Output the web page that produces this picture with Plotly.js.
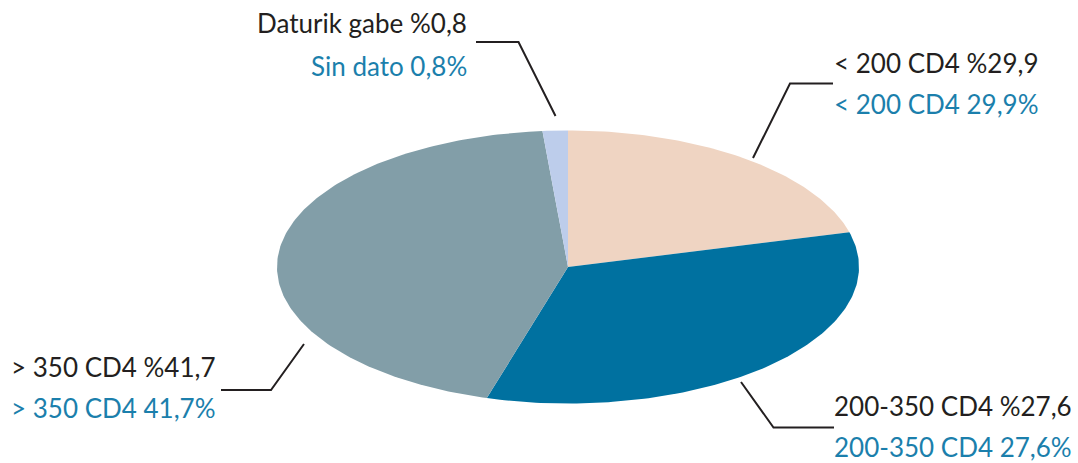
<!DOCTYPE html>
<html>
<head>
<meta charset="utf-8">
<script src="https://cdn.plot.ly/plotly-3.0.1.min.js"></script>
<style>html,body{margin:0;padding:0;background:#fff;}#chart{width:1078px;height:463px;}</style>
</head>
<body>
<div id="chart"></div>
<script>
// Categories (clockwise from 12 o'clock)
var categories = ["< 200 CD4", "200-350 CD4", "> 350 CD4", "Sin dato"];
// Slice shares as drawn in the picture (%)
var sliceShares = [20.9, 33.6, 44.1, 1.4];
// Label values as printed
var labelValues = ["29,9", "27,6", "41,7", "0,8"];
var basqueLabels = ["< 200 CD4 %29,9", "200-350 CD4 %27,6", "> 350 CD4 %41,7", "Daturik gabe %0,8"];
var spanishLabels = ["< 200 CD4 29,9%", "200-350 CD4 27,6%", "> 350 CD4 41,7%", "Sin dato 0,8%"];
var colors = ["#efd4c2", "#0071a0", "#829ea8", "#bdcdeb"];

var W = 1078, H = 463;
var cx = 568, cy = 267, rx = 291, ry = 136.5;
var xr = [-cx / rx, (W - cx) / rx];
var yr = [-(H - cy) / ry, cy / ry];

var traces = [];
var total = sliceShares.reduce(function (a, b) { return a + b; }, 0);
var start = 0;
for (var i = 0; i < sliceShares.length; i++) {
  var a0 = start / total * 2 * Math.PI;
  var a1 = (start + sliceShares[i]) / total * 2 * Math.PI;
  var xs = [0], ys = [0];
  var n = Math.max(4, Math.ceil((a1 - a0) / (2 * Math.PI) * 400));
  for (var k = 0; k <= n; k++) {
    var a = a0 + (a1 - a0) * k / n;
    xs.push(Math.sin(a));
    ys.push(Math.cos(a));
  }
  xs.push(0); ys.push(0);
  traces.push({
    type: "scatter", mode: "lines", x: xs, y: ys, fill: "toself",
    fillcolor: colors[i], line: { width: 0, color: colors[i] },
    name: categories[i], hoverinfo: "name", showlegend: false
  });
  start += sliceShares[i];
}

function px(x) { return x / W; }
function py(y) { return 1 - y / H; }

var leaders = [
  [[753, 158], [790, 83.5], [833, 83.5]],
  [[741, 382], [773.5, 427.5], [834, 427.5]],
  [[304, 344], [271, 390], [221, 390]],
  [[555.5, 116], [518.5, 42], [476, 42]]
];
var shapes = leaders.map(function (p) {
  return {
    type: "path", xref: "paper", yref: "paper",
    path: "M" + px(p[0][0]) + "," + py(p[0][1]) + " L" + px(p[1][0]) + "," + py(p[1][1]) + " L" + px(p[2][0]) + "," + py(p[2][1]),
    line: { color: "#231f20", width: 2 }
  };
});

var FONT = "Lato, 'Open Sans', sans-serif";
var FS = 26;
var labelPos = [
  { x: 832, y1: 63, y2: 104, anchor: "left" },
  { x: 1074, y1: 406, y2: 447, anchor: "right" },
  { x: 9, y1: 367, y2: 408, anchor: "left" },
  { x: 469, y1: 23, y2: 66, anchor: "right" }
];
var annotations = [];
for (var j = 0; j < categories.length; j++) {
  var lp = labelPos[j];
  annotations.push({
    xref: "paper", yref: "paper", x: px(lp.x), y: py(lp.y1), xanchor: lp.anchor, yanchor: "middle",
    text: basqueLabels[j], showarrow: false, font: { family: FONT, size: FS, color: "#231f20" }
  });
  annotations.push({
    xref: "paper", yref: "paper", x: px(lp.x), y: py(lp.y2), xanchor: lp.anchor, yanchor: "middle",
    text: spanishLabels[j], showarrow: false, font: { family: FONT, size: FS, color: "#1b7fac" }
  });
}

var layout = {
  width: W, height: H,
  margin: { l: 0, r: 0, t: 0, b: 0 },
  paper_bgcolor: "#ffffff", plot_bgcolor: "#ffffff",
  xaxis: { range: xr, visible: false, fixedrange: true },
  yaxis: { range: yr, visible: false, fixedrange: true },
  shapes: shapes,
  annotations: annotations,
  showlegend: false
};

Plotly.newPlot("chart", traces, layout, { displayModeBar: false, staticPlot: true });
</script>
</body>
</html>
